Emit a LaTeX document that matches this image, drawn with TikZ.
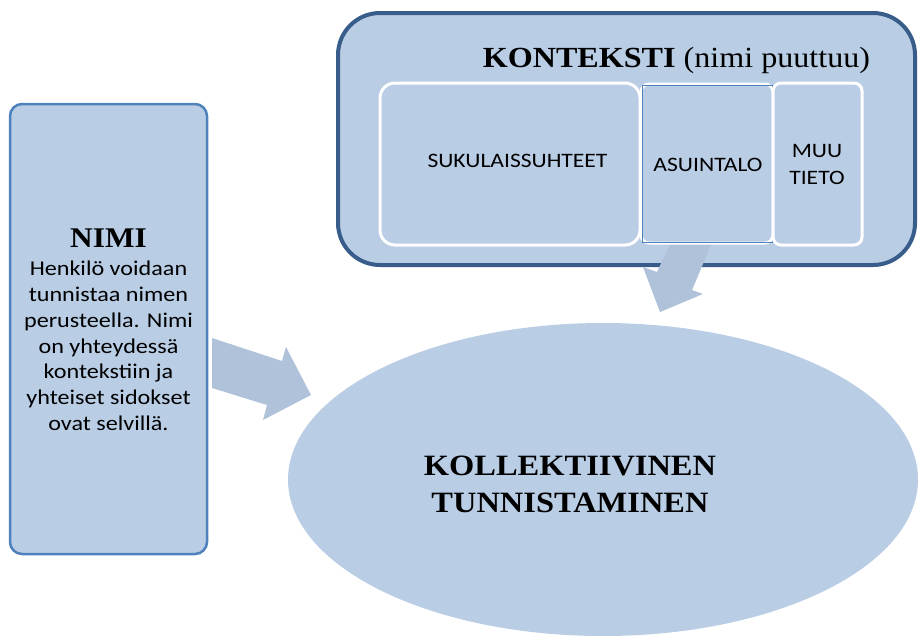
\documentclass[tikz,border=0pt]{standalone}
\usepackage{fontspec}
\setmainfont[FakeStretch=1.1]{Liberation Serif}
\newfontfamily\calib[FakeStretch=1.15]{Carlito}
\usetikzlibrary{shapes.geometric}
\definecolor{fillblue}{RGB}{185,205,229}
\definecolor{arrowblue}{RGB}{176,193,218}
\definecolor{darkborder}{RGB}{56,93,138}
\definecolor{midborder}{RGB}{79,129,189}
\tikzset{
  panel/.style={fill=fillblue, inner sep=0pt},
  whitebox/.style={panel, draw=white, line width=3pt},
  blockarrow/.style={fill=arrowblue},
  serifbig/.style={font=\bfseries\fontsize{29.5}{37}\selectfont, inner sep=0pt},
  bodytext/.style={font=\calib\fontsize{20.5}{27}\selectfont, inner sep=0pt},
}
\begin{document}
\begin{tikzpicture}[x=1pt,y=-1pt]
\useasboundingbox (0,0) rectangle (918,635);

% ellipse
\node[panel, ellipse, minimum width=630pt, minimum height=313pt] (coll) at (603,479.5) {};
\node[serifbig, align=center, anchor=north] (colltext) at (570,455.5) {KOLLEKTIIVINEN\\TUNNISTAMINEN};

% NIMI box
\node[panel, draw=midborder, line width=2.5pt, rounded corners=12pt, minimum width=197pt, minimum height=450pt] (nimi) at (108.5,329) {};
\node[font=\bfseries\fontsize{28.5}{32}\selectfont, inner sep=0pt, anchor=base] (nimititle) at (108.5,247) {NIMI};
\node[font=\calib\fontsize{21}{25.8}\selectfont, inner sep=0pt, align=center, anchor=north] (nimibody) at (108.5,261)
  {Henkilö voidaan\\tunnistaa nimen\\perusteella. Nimi\\on yhteydessä\\kontekstiin ja\\yhteiset sidokset\\ovat selvillä.};

% left block arrow
\coordinate (a1t1) at (212,338);
\coordinate (a1n1) at (282,361);
\coordinate (a1b1) at (286,347);
\coordinate (a1tip) at (311,395);
\coordinate (a1b2) at (263,420);
\coordinate (a1n2) at (267,405);
\coordinate (a1t2) at (212,388);
\fill[blockarrow] (a1t1) -- (a1n1) -- (a1b1) -- (a1tip) -- (a1b2) -- (a1n2) -- (a1t2) -- cycle;

% KONTEKSTI box
\node[panel, draw=darkborder, line width=4pt, rounded corners=42pt, minimum width=577pt, minimum height=252pt] (kontext) at (626.5,139) {};
\node[font=\fontsize{29.2}{34}\selectfont, inner sep=0pt, anchor=base] (kontitle) at (676.5,67) {\textbf{KONTEKSTI} (nimi puuttuu)};

% top block arrow
\coordinate (a2t1) at (673,238);
\coordinate (a2t2) at (714,238);
\coordinate (a2n2) at (692,290);
\coordinate (a2b2) at (703,294);
\coordinate (a2tip) at (660,312);
\coordinate (a2b1) at (643,267);
\coordinate (a2n1) at (657,272);
\fill[blockarrow] (a2t1) -- (a2t2) -- (a2n2) -- (a2b2) -- (a2tip) -- (a2b1) -- (a2n1) -- cycle;

% inner boxes
\node[whitebox, rounded corners=15pt, minimum width=260pt, minimum height=162pt] (suku) at (510,164) {};
\node[whitebox, rounded corners=8pt, minimum width=132pt, minimum height=159pt] (asu) at (707,163.5) {};
\draw[midborder, line width=0.7pt] ([shift={(2.5,2.5)}]asu.north west) rectangle ([shift={(-2.5,-2.5)}]asu.south east);
\node[whitebox, rounded corners=8pt, minimum width=89pt, minimum height=162pt] (muu) at (817.5,164) {};

\node[bodytext, anchor=base] (sukutext) at (517.5,167) {SUKULAISSUHTEET};
\node[bodytext, anchor=base] (asutext) at (708,171) {ASUINTALO};
\node[bodytext, align=center, anchor=north] (muutext) at (817,143.8) {MUU\\TIETO};
\end{tikzpicture}
\end{document}
